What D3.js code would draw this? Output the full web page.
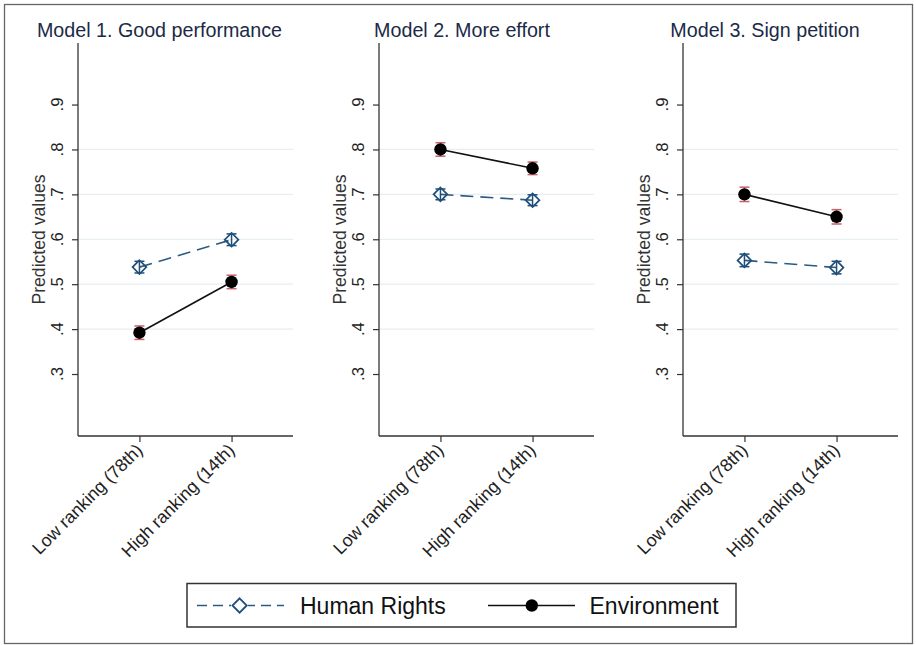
<!DOCTYPE html>
<html>
<head>
<meta charset="utf-8">
<script src="https://cdn.jsdelivr.net/npm/d3@7"></script>
<style>
  html, body { margin: 0; padding: 0; background: #fff; }
  svg { display: block; font-family: "Liberation Sans", Arial, sans-serif; }
</style>
</head>
<body>
<svg id="chart" width="916" height="645"></svg>
<script>
// ---- data ----
const panelTitles = ["Model 1. Good performance", "Model 2. More effort", "Model 3. Sign petition"];
const categories = ["Low ranking (78th)", "High ranking (14th)"];
const seriesNames = ["Human Rights", "Environment"];
const hrValues  = [[0.538, 0.599], [0.700, 0.687], [0.553, 0.537]];
const hrLower   = [[0.525, 0.586], [0.688, 0.675], [0.539, 0.523]];
const hrUpper   = [[0.551, 0.612], [0.712, 0.699], [0.567, 0.551]];
const envValues = [[0.392, 0.505], [0.800, 0.758], [0.700, 0.650]];
const envLower  = [[0.377, 0.490], [0.785, 0.744], [0.684, 0.634]];
const envUpper  = [[0.407, 0.520], [0.815, 0.772], [0.716, 0.666]];
const yTicks = [0.3, 0.4, 0.5, 0.6, 0.7, 0.8, 0.9];
const yGrid  = [0.4, 0.5, 0.6, 0.7, 0.8];
const yTitle = "Predicted values";

// ---- layout ----
const svg = d3.select("#chart");
const axisLeft = [78, 379, 683];
const plotW = 215;
const plotTop = 43, plotBottom = 436;
const titleCenter = [159.5, 462, 765];

const hrColor = "#1f4e79";
const envCIColor = "#c9606a";
const fmt = v => d3.format(".1f")(v).replace(/^0/, "");

// outer frame
svg.append("rect").attr("x", 4.5).attr("y", 4.5).attr("width", 908).attr("height", 639)
  .attr("fill", "none").attr("stroke", "#666").attr("stroke-width", 1.3);

const y = d3.scaleLinear().domain([0.162, 1.037]).range([plotBottom, plotTop]);

panelTitles.forEach((title, p) => {
  const x0 = axisLeft[p];
  const x = d3.scalePoint().domain(categories).range([x0, x0 + plotW]).padding(0.667);
  const g = svg.append("g");

  // title
  g.append("text").attr("x", titleCenter[p]).attr("y", 37)
    .attr("text-anchor", "middle").attr("font-size", 19.7).attr("fill", "#1b2a47")
    .text(title);

  // gridlines
  g.selectAll(".grid").data(yGrid).join("line")
    .attr("x1", x0).attr("x2", x0 + plotW)
    .attr("y1", d => y(d)).attr("y2", d => y(d))
    .attr("stroke", "#e6eef2").attr("stroke-width", 1.3);

  // y axis
  const ya = g.append("g").attr("transform", `translate(${x0},0)`)
    .call(d3.axisLeft(y).tickValues(yTicks).tickSize(6).tickFormat(""));
  ya.select(".domain").remove();
  ya.selectAll(".tick line").attr("stroke", "#333").attr("stroke-width", 1.2);
  g.append("line").attr("x1", x0).attr("x2", x0).attr("y1", plotTop).attr("y2", plotBottom)
    .attr("stroke", "#333").attr("stroke-width", 1.3);
  g.selectAll(".ylab").data(yTicks).join("text")
    .attr("transform", d => `translate(${x0 - 15},${y(d)}) rotate(-90)`)
    .attr("text-anchor", "middle").attr("font-size", 16.8).attr("fill", "#222")
    .text(fmt);
  g.append("text")
    .attr("transform", `translate(${x0 - 33},${(plotTop + plotBottom) / 2}) rotate(-90)`)
    .attr("text-anchor", "middle").attr("font-size", 17.6).attr("fill", "#333")
    .text(yTitle);

  // x axis
  const xa = g.append("g").attr("transform", `translate(0,${plotBottom})`)
    .call(d3.axisBottom(x).tickSize(6).tickFormat(""));
  xa.select(".domain").remove();
  xa.selectAll(".tick line").attr("stroke", "#333").attr("stroke-width", 1.2);
  g.append("line").attr("x1", x0).attr("x2", x0 + plotW).attr("y1", plotBottom).attr("y2", plotBottom)
    .attr("stroke", "#333").attr("stroke-width", 1.3);
  g.selectAll(".xlab").data(categories).join("text")
    .attr("transform", d => `translate(${x(d)},${plotBottom + 11}) rotate(-45)`)
    .attr("text-anchor", "end").attr("dominant-baseline", "central")
    .attr("font-size", 17.8).attr("fill", "#222")
    .text(d => d);

  // series data
  const hr = categories.map((c, i) => ({ c, v: hrValues[p][i], lo: hrLower[p][i], hi: hrUpper[p][i] }));
  const env = categories.map((c, i) => ({ c, v: envValues[p][i], lo: envLower[p][i], hi: envUpper[p][i] }));
  const line = d3.line().x(d => x(d.c)).y(d => y(d.v));

  // HR dashed line
  g.append("path").datum(hr).attr("d", line).attr("fill", "none")
    .attr("stroke", "#2a5a86").attr("stroke-width", 1.6).attr("stroke-dasharray", "13,7");
  // Env line
  g.append("path").datum(env).attr("d", line).attr("fill", "none")
    .attr("stroke", "#111").attr("stroke-width", 1.6);

  // CI bars
  function ci(data, color) {
    const cg = g.append("g").attr("stroke", color).attr("stroke-width", 1.5);
    cg.selectAll(".v").data(data).join("line")
      .attr("x1", d => x(d.c)).attr("x2", d => x(d.c))
      .attr("y1", d => y(d.lo)).attr("y2", d => y(d.hi));
    cg.selectAll(".t").data(data).join("line")
      .attr("x1", d => x(d.c) - 5).attr("x2", d => x(d.c) + 5)
      .attr("y1", d => y(d.hi)).attr("y2", d => y(d.hi));
    cg.selectAll(".b").data(data).join("line")
      .attr("x1", d => x(d.c) - 5).attr("x2", d => x(d.c) + 5)
      .attr("y1", d => y(d.lo)).attr("y2", d => y(d.lo));
  }
  ci(hr, hrColor);
  ci(env, envCIColor);

  // markers
  g.selectAll(".dia").data(hr).join("path")
    .attr("d", d3.symbol(d3.symbolDiamond2, 120)())
    .attr("transform", d => `translate(${x(d.c)},${y(d.v)})`)
    .attr("fill", "none").attr("stroke", hrColor).attr("stroke-width", 1.7);
  g.selectAll(".dot").data(env).join("circle")
    .attr("cx", d => x(d.c)).attr("cy", d => y(d.v)).attr("r", 6.2)
    .attr("fill", "#000");
});

// ---- legend ----
const lg = svg.append("g");
lg.append("rect").attr("x", 187).attr("y", 583.5).attr("width", 549).attr("height", 43.5)
  .attr("fill", "#fff").attr("stroke", "#333").attr("stroke-width", 1.5);
const ly = 605.5;
lg.append("line").attr("x1", 197).attr("x2", 284).attr("y1", ly).attr("y2", ly)
  .attr("stroke", "#2a5a86").attr("stroke-width", 1.6).attr("stroke-dasharray", "10,6");
lg.append("rect").attr("x", 231).attr("y", ly - 9).attr("width", 17).attr("height", 18).attr("fill", "#fff");
lg.append("path").attr("d", d3.symbol(d3.symbolDiamond2, 130)())
  .attr("transform", `translate(239.6,${ly})`)
  .attr("fill", "#fff").attr("stroke", hrColor).attr("stroke-width", 1.8);
lg.append("text").attr("x", 300).attr("y", ly).attr("dominant-baseline", "central")
  .attr("font-size", 23).attr("fill", "#111").text(seriesNames[0]);
lg.append("line").attr("x1", 488).attr("x2", 575).attr("y1", ly).attr("y2", ly)
  .attr("stroke", "#111").attr("stroke-width", 1.6);
lg.append("circle").attr("cx", 531.8).attr("cy", ly).attr("r", 6.2).attr("fill", "#000");
lg.append("text").attr("x", 589.5).attr("y", ly).attr("dominant-baseline", "central")
  .attr("font-size", 23).attr("fill", "#111").text(seriesNames[1]);
</script>
</body>
</html>
